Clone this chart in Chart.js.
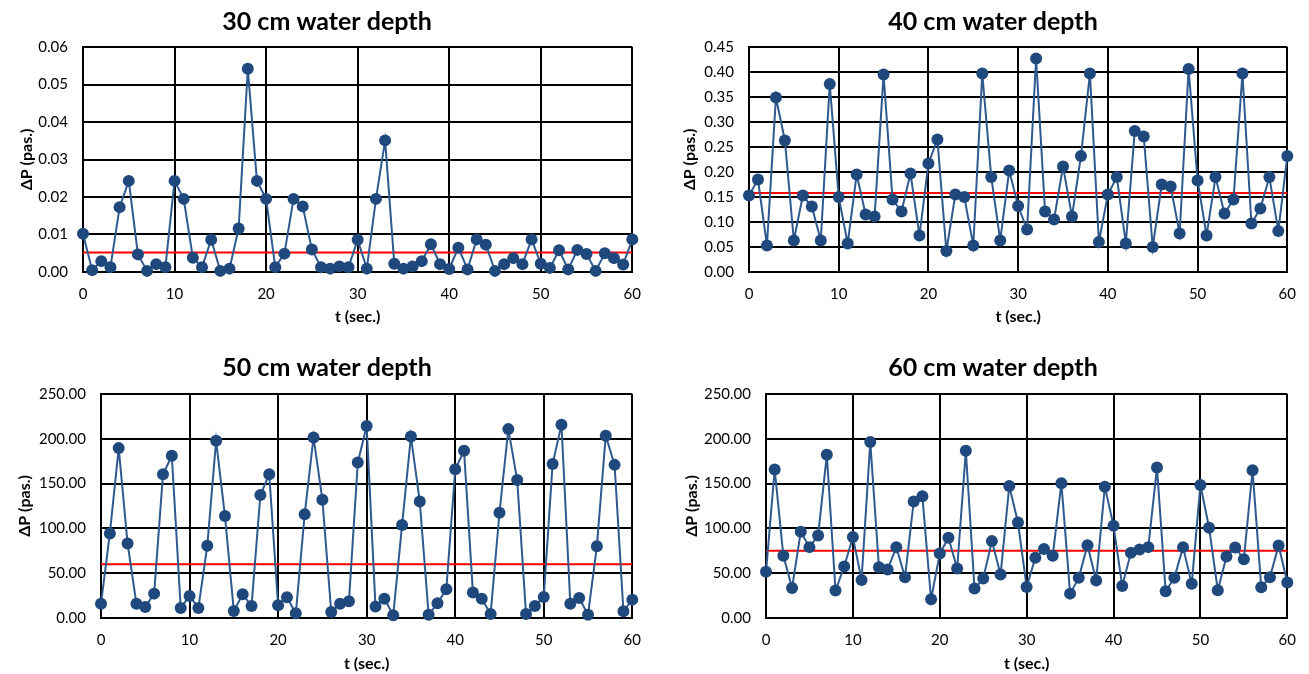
<!DOCTYPE html>
<html><head><meta charset="utf-8">
<script src="https://cdn.jsdelivr.net/npm/chart.js@4.4.1/dist/chart.umd.min.js"></script>
<style>
html,body{margin:0;padding:0;background:#fff;width:1309px;height:674px;overflow:hidden}
.p{position:absolute}
</style></head><body>
<div class="p" style="left:0px;top:0px;width:654px;height:337px"><canvas id="c30"></canvas></div>
<div class="p" style="left:677px;top:0px;width:632px;height:337px"><canvas id="c40"></canvas></div>
<div class="p" style="left:0px;top:337px;width:654px;height:337px"><canvas id="c50"></canvas></div>
<div class="p" style="left:677px;top:337px;width:632px;height:337px"><canvas id="c60"></canvas></div>
<script>
const times = [0,1,2,3,4,5,6,7,8,9,10,11,12,13,14,15,16,17,18,19,20,21,22,23,24,25,26,27,28,29,30,31,32,33,34,35,36,37,38,39,40,41,42,43,44,45,46,47,48,49,50,51,52,53,54,55,56,57,58,59,60];

const dp30 = [0.0102,0.0005,0.0029,0.0013,0.0173,0.0243,0.0047,0.0003,0.0021,0.0013,
  0.0243,0.0195,0.0038,0.0013,0.0086,0.0003,0.0009,0.0116,0.0542,0.0243,
  0.0195,0.0013,0.0049,0.0195,0.0175,0.0060,0.0013,0.0009,0.0015,0.0013,
  0.0086,0.0009,0.0195,0.0351,0.0022,0.0009,0.0015,0.0029,0.0074,0.0021,
  0.0008,0.0065,0.0007,0.0087,0.0073,0.0003,0.0021,0.0037,0.0021,0.0087,
  0.0022,0.0011,0.0058,0.0007,0.0059,0.0048,0.0003,0.0050,0.0037,0.0020,0.0087];
const dp40 = [0.153,0.185,0.053,0.349,0.263,0.063,0.153,0.131,0.063,0.376,
  0.150,0.057,0.195,0.115,0.111,0.395,0.145,0.121,0.197,0.073,
  0.217,0.265,0.042,0.155,0.150,0.053,0.397,0.190,0.063,0.203,
  0.132,0.085,0.427,0.121,0.105,0.211,0.111,0.232,0.397,0.060,
  0.155,0.190,0.057,0.282,0.271,0.050,0.175,0.171,0.077,0.406,
  0.183,0.073,0.190,0.117,0.145,0.397,0.097,0.127,0.190,0.082,0.232];
const dp50 = [16,94.4,189.6,83.2,16,12.3,27.2,160.4,181,11.2,
  24.6,11.2,80.6,197.8,113.8,7.8,26.5,13.4,137.3,160.4,
  14.2,23.1,5.2,115.7,201.5,132.1,6.7,16,18.7,173.5,
  214.2,12.7,21.6,3,103.7,202.6,129.9,3.7,16.4,32.1,
  166,186.6,28.4,21.6,4.5,117.5,210.8,154.1,4.5,13.4,
  23.5,172,215.7,16,22.4,3.7,80.2,203.4,170.9,7.5,20.5];
const dp60 = [51.5,165.7,69.4,33.6,96.3,79.1,92.2,182.1,30.6,57.5,
  90.3,42.5,196.3,56.7,54.1,79.1,45.5,129.9,135.8,20.9,
  72,89.6,55.2,186.6,32.8,44,85.8,48.5,147.4,106.7,
  34.7,67.2,76.9,69.4,150.4,27.2,44.8,81.3,41.8,146.6,
  103,35.8,72.8,76.5,79.1,167.9,29.9,44.8,79.1,38.1,
  148.5,100.7,31,68.7,78.7,65.7,164.9,34.3,45.5,81,39.6];

const mean30 = 0.0052, mean40 = 0.158, mean50 = 60, mean60 = 75;

const titles = ['30 cm water depth','40 cm water depth','50 cm water depth','60 cm water depth'];
const xTitle = 't (sec.)';
const yTitle = '\u0394P (pas.)';
const xTicks = [0,10,20,30,40,50,60];
const yTicks30 = [0,0.01,0.02,0.03,0.04,0.05,0.06];
const yTicks40 = [0,0.05,0.10,0.15,0.20,0.25,0.30,0.35,0.40,0.45];
const yTicks50 = [0,50,100,150,200,250];
const yTicks60 = [0,50,100,150,200,250];

const FONT = 'Lato, "Open Sans", sans-serif';

function build(id, title, values, mean, yTicks, g) {
  const pts = times.map((t, i) => ({x: t, y: values[i]}));
  const meanPts = [{x: xTicks[0], y: mean}, {x: xTicks[xTicks.length-1], y: mean}];
  const lh = 16 * 1.2;
  const tlh = 25 * 1.2;
  const pr = g.W - g.R;
  const pl = 2 * g.cx - g.W + pr;
  new Chart(document.getElementById(id), {
    type: 'line',
    data: { datasets: [
      { data: pts, borderColor: '#2F5A8F', borderWidth: 2, pointRadius: 6, pointHoverRadius: 6,
        pointBackgroundColor: '#1F497D', pointBorderColor: '#1F497D', pointBorderWidth: 0,
        tension: 0, clip: false, order: 1 },
      { data: meanPts, borderColor: '#FF0000', borderWidth: 2, pointRadius: 0, order: 2, clip: false }
    ]},
    options: {
      responsive: true, maintainAspectRatio: false, animation: false,
      events: [],
      layout: { padding: { left: pl, right: pr, top: 0, bottom: 0 } },
      plugins: {
        legend: { display: false }, tooltip: { enabled: false },
        title: { display: true, text: title, color: '#000',
          font: { family: FONT, size: 25, weight: 'bold', lineHeight: 1.2 },
          padding: { top: g.ty - tlh/2, bottom: g.T - (g.ty + tlh/2) } }
      },
      scales: {
        x: { type: 'linear', min: xTicks[0], max: xTicks[xTicks.length-1],
          afterBuildTicks: (s) => { s.ticks = xTicks.map(v => ({value: v})); },
          afterFit: (s) => { s.height = g.H - g.B; },
          grid: { color: '#000', lineWidth: 2, drawTicks: false },
          border: { color: '#000', width: 2 },
          ticks: { color: '#000', padding: 13, font: { family: FONT, size: 15 }, maxRotation: 0 },
          title: { display: true, text: xTitle, color: '#000',
            font: { family: FONT, size: 16, weight: 'bold', lineHeight: 1.2 },
            padding: { top: 0, bottom: (g.H - g.xy) - lh/2 } }
        },
        y: { type: 'linear', min: yTicks[0], max: yTicks[yTicks.length-1],
          afterBuildTicks: (s) => { s.ticks = yTicks.map(v => ({value: v})); },
          afterFit: (s) => { s.width = g.L - pl; },
          grid: { color: '#000', lineWidth: 2, drawTicks: false },
          border: { color: '#000', width: 2 },
          ticks: { color: '#000', padding: 15, font: { family: FONT, size: 15 },
            callback: (v) => Number(v).toFixed(2) },
          title: { display: true, text: yTitle, color: '#000',
            font: { family: FONT, size: 16, weight: 'bold', lineHeight: 1.2 },
            padding: { top: g.yx - pl - lh/2, bottom: 0 } }
        }
      }
    }
  });
}

build('c30', titles[0], dp30, mean30, yTicks30, {W:654,H:337,L:83,R:636,T:47,B:272,ty:22,yx:27,xy:317,cx:327});
build('c40', titles[1], dp40, mean40, yTicks40, {W:632,H:337,L:72,R:623,T:47,B:272,ty:22,yx:13,xy:317,cx:316});
build('c50', titles[2], dp50, mean50, yTicks50, {W:654,H:337,L:101,R:637,T:57,B:281,ty:31,yx:25,xy:327,cx:327});
build('c60', titles[3], dp60, mean60, yTicks60, {W:632,H:337,L:89,R:624,T:57,B:281,ty:31,yx:15,xy:327,cx:316});
</script>
</body></html>
